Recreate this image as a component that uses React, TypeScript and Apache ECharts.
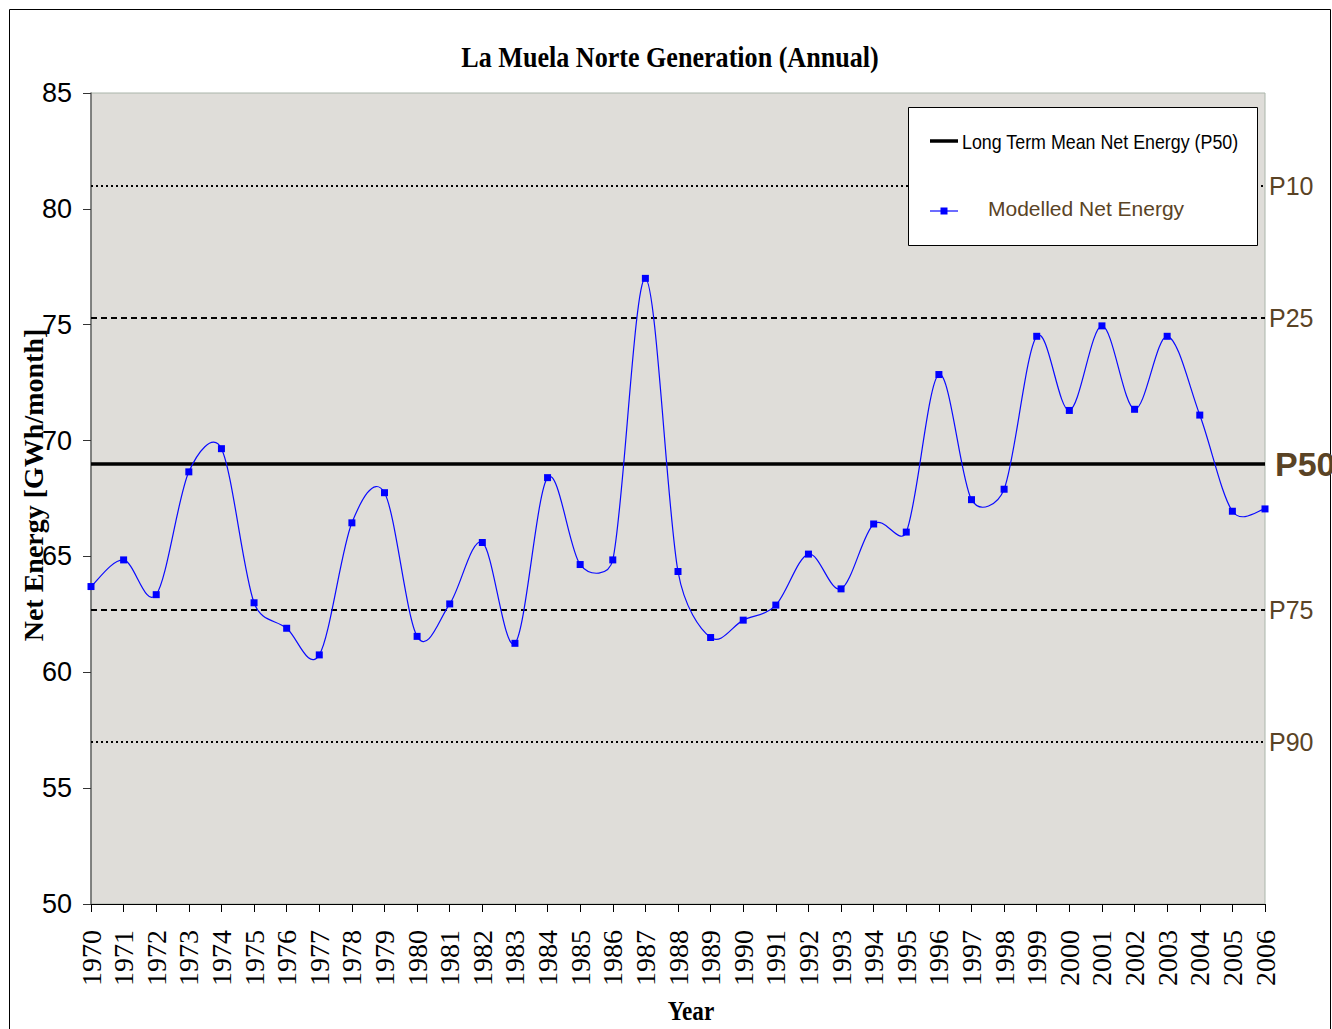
import React, { useEffect, useRef } from "react";
import * as echarts from "echarts";

const years = [
  "1970", "1971", "1972", "1973", "1974", "1975", "1976", "1977", "1978", "1979",
  "1980", "1981", "1982", "1983", "1984", "1985", "1986", "1987", "1988", "1989",
  "1990", "1991", "1992", "1993", "1994", "1995", "1996", "1997", "1998", "1999",
  "2000", "2001", "2002", "2003", "2004", "2005", "2006",
];

const netEnergy = [
  63.7, 64.85, 63.35, 68.65, 69.65, 63.0, 61.9, 60.75, 66.45, 67.75,
  61.55, 62.95, 65.6, 61.25, 68.4, 64.65, 64.85, 77.0, 64.35, 61.5,
  62.25, 62.9, 65.1, 63.6, 66.4, 66.05, 72.85, 67.45, 67.9, 74.5,
  71.3, 74.95, 71.35, 74.5, 71.1, 66.95, 67.05,
];

const percentileNames = ["P10", "P25", "P50", "P75", "P90"];
const percentileValues = [81.0, 75.3, 69.0, 62.7, 57.0];
const percentileStyles = ["dotted", "dashed", "solid", "dashed", "dotted"];

const yMin = 50;
const yMax = 85;
const yInterval = 5;

const title = "La Muela Norte Generation (Annual)";
const xName = "Year";
const yName = "Net Energy [GWh/month]";
const legendP50 = "Long Term Mean Net Energy (P50)";
const legendModel = "Modelled Net Energy";

const BROWN = "#5a4325";
const BLUE = "#0a0aff";
const SANS = "'Liberation Sans', Arial, sans-serif";
const SERIF = "'Liberation Serif', 'Times New Roman', serif";

export default function App() {
  const ref = useRef<HTMLDivElement>(null);

  useEffect(() => {
    if (!ref.current) return;
    const chart = echarts.init(ref.current, null, { renderer: "svg" });

    const markData = percentileNames.map((name, i) => {
      const isMean = name === "P50";
      const style = percentileStyles[i];
      return {
        name,
        yAxis: percentileValues[i],
        lineStyle: {
          color: "#000",
          width: isMean ? 3.5 : 1.8,
          type: style === "dotted" ? [2, 3] : style === "dashed" ? [6, 4] : "solid",
        },
        label: {
          show: true,
          position: "end",
          formatter: name,
          distance: isMean ? 10 : 4,
          color: BROWN,
          fontFamily: SANS,
          fontSize: isMean ? 34 : 25,
          fontWeight: isMean ? "bold" : "normal",
        },
      };
    });

    const n = netEnergy.length;
    const curveData = netEnergy.map((v, i) => [i, v]);

    // Smoothed curve (spreadsheet-style Bezier smoothing), each segment
    // placed through the chart's own coordinate system.
    const renderSegment = (params: any, api: any) => {
      const i = params.dataIndex;
      if (i >= n - 1) return null;
      const i0 = Math.max(i - 1, 0);
      const i3 = Math.min(i + 2, n - 1);
      const p0 = api.coord([i0, netEnergy[i0]]);
      const p1 = api.coord([i, netEnergy[i]]);
      const p2 = api.coord([i + 1, netEnergy[i + 1]]);
      const p3 = api.coord([i3, netEnergy[i3]]);
      const segLen = Math.hypot(p2[0] - p1[0], p2[1] - p1[1]);
      const cap = segLen / 2;
      let ax = (p2[0] - p0[0]) / 6;
      let ay = (p2[1] - p0[1]) / 6;
      let bx = (p3[0] - p1[0]) / 6;
      let by = (p3[1] - p1[1]) / 6;
      const la = Math.hypot(ax, ay);
      const lb = Math.hypot(bx, by);
      if (la > cap && la > 0) {
        ax *= cap / la;
        ay *= cap / la;
      }
      if (lb > cap && lb > 0) {
        bx *= cap / lb;
        by *= cap / lb;
      }
      return {
        type: "bezierCurve",
        shape: {
          x1: p1[0],
          y1: p1[1],
          cpx1: p1[0] + ax,
          cpy1: p1[1] + ay,
          cpx2: p2[0] - bx,
          cpy2: p2[1] - by,
          x2: p2[0],
          y2: p2[1],
        },
        style: { stroke: BLUE, lineWidth: 1.2, fill: null },
        silent: true,
      };
    };

    const Z = 100;

    chart.setOption({
      animation: false,
      backgroundColor: "#ffffff",
      grid: {
        left: 91,
        top: 93,
        width: 1174,
        height: 811,
        show: true,
        backgroundColor: "#dfddd9",
        borderColor: "#aab5aa",
        borderWidth: 1,
      },
      xAxis: {
        type: "category",
        data: years,
        boundaryGap: false,
        axisLine: { show: true, lineStyle: { color: "#000", width: 1 } },
        axisTick: { show: true, length: 8, interval: 0, lineStyle: { color: "#000" } },
        axisLabel: {
          interval: 0,
          rotate: 90,
          margin: 26,
          color: "#000",
          fontFamily: SERIF,
          fontSize: 28,
        },
        splitLine: { show: false },
      },
      yAxis: {
        type: "value",
        min: yMin,
        max: yMax,
        interval: yInterval,
        axisLine: { show: true, lineStyle: { color: "#666", width: 1.5 } },
        axisTick: { show: true, length: 8, lineStyle: { color: "#333" } },
        axisLabel: {
          margin: 19,
          color: "#000",
          fontFamily: SANS,
          fontSize: 27,
        },
        splitLine: { show: false },
      },
      series: [
        {
          name: legendModel + " curve",
          type: "custom",
          coordinateSystem: "cartesian2d",
          data: curveData,
          encode: { x: 0, y: 1 },
          renderItem: renderSegment,
          z: 3,
        },
        {
          name: legendModel,
          type: "line",
          data: netEnergy,
          symbol: "rect",
          symbolSize: 7,
          itemStyle: { color: "#0000ff" },
          lineStyle: { width: 0, opacity: 0 },
          z: 4,
          markLine: {
            silent: true,
            symbol: "none",
            data: markData,
            z: 2,
          },
        },
      ],
      graphic: [
        {
          type: "rect",
          shape: { x: 9.5, y: 9.5, width: 1321, height: 1040 },
          style: { fill: "none", stroke: "#000", lineWidth: 1 },
          silent: true,
          z: 0,
        },
        {
          type: "text",
          x: 670,
          y: 57,
          scaleX: 0.87,
          style: {
            text: title,
            font: `bold 30px ${SERIF}`,
            fill: "#000",
            textAlign: "center",
            textVerticalAlign: "middle",
          },
        },
        {
          type: "text",
          x: 691,
          y: 1011,
          scaleX: 0.86,
          style: {
            text: xName,
            font: `bold 27px ${SERIF}`,
            fill: "#000",
            textAlign: "center",
            textVerticalAlign: "middle",
          },
        },
        {
          type: "text",
          x: 33,
          y: 485,
          rotation: Math.PI / 2,
          style: {
            text: yName,
            font: `bold 28px ${SERIF}`,
            fill: "#000",
            textAlign: "center",
            textVerticalAlign: "middle",
          },
          z: 10,
        },
        {
          type: "rect",
          z: Z,
          shape: { x: 908.5, y: 107.5, width: 349, height: 138 },
          style: { fill: "#ffffff", stroke: "#000", lineWidth: 1 },
        },
        {
          type: "line",
          z: Z + 1,
          shape: { x1: 930, y1: 141, x2: 958, y2: 141 },
          style: { stroke: "#000", lineWidth: 3.5 },
        },
        {
          type: "text",
          z: Z + 1,
          x: 962,
          y: 141,
          scaleX: 0.85,
          style: {
            text: legendP50,
            font: `21px ${SANS}`,
            fill: "#000",
            textAlign: "left",
            textVerticalAlign: "middle",
          },
        },
        {
          type: "line",
          z: Z + 1,
          shape: { x1: 930, y1: 211, x2: 958, y2: 211 },
          style: { stroke: BLUE, lineWidth: 1.2 },
        },
        {
          type: "rect",
          z: Z + 2,
          shape: { x: 940.5, y: 207.5, width: 7, height: 7 },
          style: { fill: "#0000ff" },
        },
        {
          type: "text",
          z: Z + 1,
          x: 988,
          y: 208,
          style: {
            text: legendModel,
            font: `21px ${SANS}`,
            fill: BROWN,
            textAlign: "left",
            textVerticalAlign: "middle",
          },
        },
      ],
    });

    return () => chart.dispose();
  }, []);

  return (
    <div
      ref={ref}
      style={{ position: "fixed", left: 0, top: 0, width: 1332, height: 1029 }}
    />
  );
}
